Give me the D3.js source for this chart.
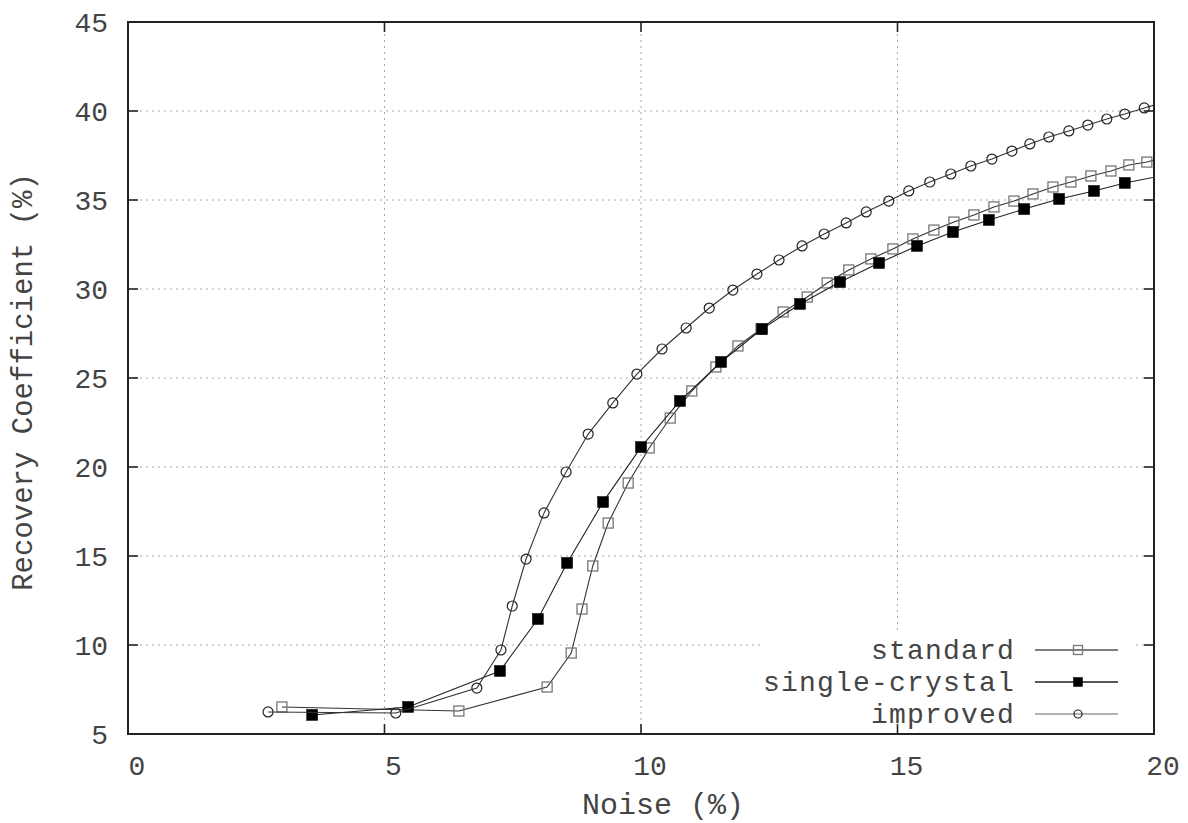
<!DOCTYPE html>
<html>
<head>
<meta charset="utf-8">
<script src="https://cdn.jsdelivr.net/npm/d3@7"></script>
<style>
  html, body { margin: 0; padding: 0; background: #fff; }
  svg { display: block; }
  text { font-family: "Liberation Mono", "Courier New", monospace; fill: #444; }
</style>
</head>
<body>
<svg id="chart" width="1188" height="823"></svg>
<script>
// ---- data (Noise %, Recovery Coefficient %) ----
const seriesNames = ["standard", "single-crystal", "improved"];

const standardX = [3.00, 6.45, 8.17, 8.64, 8.85, 9.06, 9.36, 9.75, 10.16, 10.57, 10.99, 11.46, 11.89, 12.34, 12.77, 13.24, 13.63, 14.05, 14.48, 14.91, 15.30, 15.71, 16.10, 16.49, 16.88, 17.27, 17.64, 18.03, 18.38, 18.77, 19.16, 19.51, 19.86, 20.21];
const standardY = [6.52, 6.29, 7.64, 9.55, 12.02, 14.44, 16.85, 19.10, 21.07, 22.75, 24.27, 25.62, 26.80, 27.75, 28.71, 29.55, 30.34, 31.07, 31.69, 32.25, 32.81, 33.31, 33.76, 34.16, 34.61, 34.94, 35.34, 35.73, 36.01, 36.35, 36.63, 36.97, 37.13, 37.40];

const singleX = [3.59, 5.46, 7.25, 7.99, 8.56, 9.26, 10.00, 10.76, 11.56, 12.36, 13.10, 13.88, 14.64, 15.38, 16.08, 16.78, 17.47, 18.15, 18.83, 19.43, 20.10];
const singleY = [6.07, 6.52, 8.54, 11.46, 14.61, 18.03, 21.12, 23.71, 25.90, 27.75, 29.16, 30.39, 31.46, 32.42, 33.20, 33.88, 34.49, 35.06, 35.51, 35.96, 36.33];

const improvedX = [2.73, 5.22, 6.80, 7.27, 7.49, 7.76, 8.11, 8.54, 8.97, 9.45, 9.92, 10.41, 10.88, 11.33, 11.79, 12.26, 12.69, 13.14, 13.57, 14.00, 14.39, 14.83, 15.22, 15.63, 16.04, 16.43, 16.84, 17.23, 17.58, 17.95, 18.34, 18.71, 19.08, 19.43, 19.81, 20.19];
const improvedY = [6.24, 6.18, 7.58, 9.72, 12.19, 14.83, 17.42, 19.72, 21.85, 23.60, 25.22, 26.63, 27.81, 28.93, 29.94, 30.84, 31.63, 32.42, 33.09, 33.71, 34.33, 34.94, 35.51, 36.01, 36.46, 36.91, 37.30, 37.75, 38.15, 38.54, 38.88, 39.21, 39.55, 39.83, 40.17, 40.49];

const xTicks = [0, 5, 10, 15, 20];
const yTicks = [5, 10, 15, 20, 25, 30, 35, 40, 45];
const xLabel = "Noise (%)";
const yLabel = "Recovery Coefficient (%)";

// ---- layout ----
const svg = d3.select("#chart");
const L = 128, R = 1154, T = 22, B = 734;
const x = d3.scaleLinear().domain([0, 20]).range([L, R]);
const y = d3.scaleLinear().domain([5, 45]).range([B, T]);

svg.append("defs").append("clipPath").attr("id", "plotclip")
  .append("rect").attr("x", L).attr("y", T).attr("width", R - L).attr("height", B - T);

// grid
const grid = svg.append("g");
grid.selectAll(".gx").data(xTicks.slice(1, -1)).enter().append("line")
  .attr("x1", d => x(d)).attr("x2", d => x(d)).attr("y1", T).attr("y2", B)
  .attr("stroke", "#aaa").attr("stroke-width", 1).attr("stroke-dasharray", "2,4");
grid.selectAll(".gy").data(yTicks.slice(1, -1)).enter().append("line")
  .attr("x1", L).attr("x2", R).attr("y1", d => y(d)).attr("y2", d => y(d))
  .attr("stroke", "#aaa").attr("stroke-width", 1).attr("stroke-dasharray", "2,4");

// legend background (opaque key box)
svg.append("rect").attr("x", 762).attr("y", 633).attr("width", 374).attr("height", 100).attr("fill", "#fff");

// series
const series = [
  { name: "standard", xs: standardX, ys: standardY, line: "#333", legendLine: "#555", marker: "open-square" },
  { name: "single-crystal", xs: singleX, ys: singleY, line: "#222", legendLine: "#222", marker: "filled-square" },
  { name: "improved", xs: improvedX, ys: improvedY, line: "#333", legendLine: "#999", marker: "open-circle" }
];

const lineGen = d3.line().x(d => x(d[0])).y(d => y(d[1]));
const plot = svg.append("g").attr("clip-path", "url(#plotclip)");

function drawMarker(g, type, cx, cy, size) {
  if (type === "open-square") {
    g.append("rect").attr("x", cx - size / 2).attr("y", cy - size / 2).attr("width", size).attr("height", size)
      .attr("fill", "none").attr("stroke", "#777").attr("stroke-width", 1.3);
  } else if (type === "filled-square") {
    g.append("rect").attr("x", cx - size / 2).attr("y", cy - size / 2).attr("width", size).attr("height", size)
      .attr("fill", "#000").attr("stroke", "#000").attr("stroke-width", 0.5);
  } else {
    g.append("circle").attr("cx", cx).attr("cy", cy).attr("r", size / 2)
      .attr("fill", "none").attr("stroke", "#222").attr("stroke-width", 1.2);
  }
}

series.forEach(s => {
  const pts = s.xs.map((v, i) => [v, s.ys[i]]);
  plot.append("path").datum(pts).attr("d", lineGen)
    .attr("fill", "none").attr("stroke", s.line).attr("stroke-width", 1.1);
  const mg = plot.append("g");
  pts.forEach(p => drawMarker(mg, s.marker, x(p[0]), y(p[1]), s.marker === "filled-square" ? 11 : 10));
});

// border
svg.append("rect").attr("x", L).attr("y", T).attr("width", R - L).attr("height", B - T)
  .attr("fill", "none").attr("stroke", "#222").attr("stroke-width", 2);

// ticks (inward, mirrored)
const tk = svg.append("g").attr("stroke", "#222").attr("stroke-width", 1.6);
xTicks.forEach(d => {
  tk.append("line").attr("x1", x(d)).attr("x2", x(d)).attr("y1", B).attr("y2", B - 10);
  tk.append("line").attr("x1", x(d)).attr("x2", x(d)).attr("y1", T).attr("y2", T + 10);
});
yTicks.forEach(d => {
  tk.append("line").attr("x1", L).attr("x2", L + 10).attr("y1", y(d)).attr("y2", y(d));
  tk.append("line").attr("x1", R).attr("x2", R - 10).attr("y1", y(d)).attr("y2", y(d));
});

// tick labels
svg.selectAll(".xt").data(xTicks).enter().append("text")
  .attr("x", d => x(d) + 9).attr("y", 775).attr("text-anchor", "middle")
  .attr("font-size", 28).text(d => d);
svg.selectAll(".yt").data(yTicks).enter().append("text")
  .attr("x", 108).attr("y", d => y(d) + 10).attr("text-anchor", "end")
  .attr("font-size", 28).text(d => d);

// axis labels
svg.append("text").attr("x", 663).attr("y", 814).attr("text-anchor", "middle")
  .attr("font-size", 30).text(xLabel);
svg.append("text").attr("transform", "translate(32,382) rotate(-90)").attr("text-anchor", "middle")
  .attr("font-size", 29).text(yLabel);

// legend
const legRows = [650, 682, 714];
series.forEach((s, i) => {
  const ly = legRows[i];
  svg.append("text").attr("x", 1015).attr("y", ly + 9).attr("text-anchor", "end")
    .attr("font-size", 28).attr("letter-spacing", 1.2).text(s.name);
  svg.append("line").attr("x1", 1035).attr("x2", 1118).attr("y1", ly).attr("y2", ly)
    .attr("stroke", s.legendLine).attr("stroke-width", 1.3);
  const lg = svg.append("g");
  drawMarker(lg, s.marker, 1078, ly, s.marker === "open-circle" ? 8 : 9);
});
</script>
</body>
</html>
